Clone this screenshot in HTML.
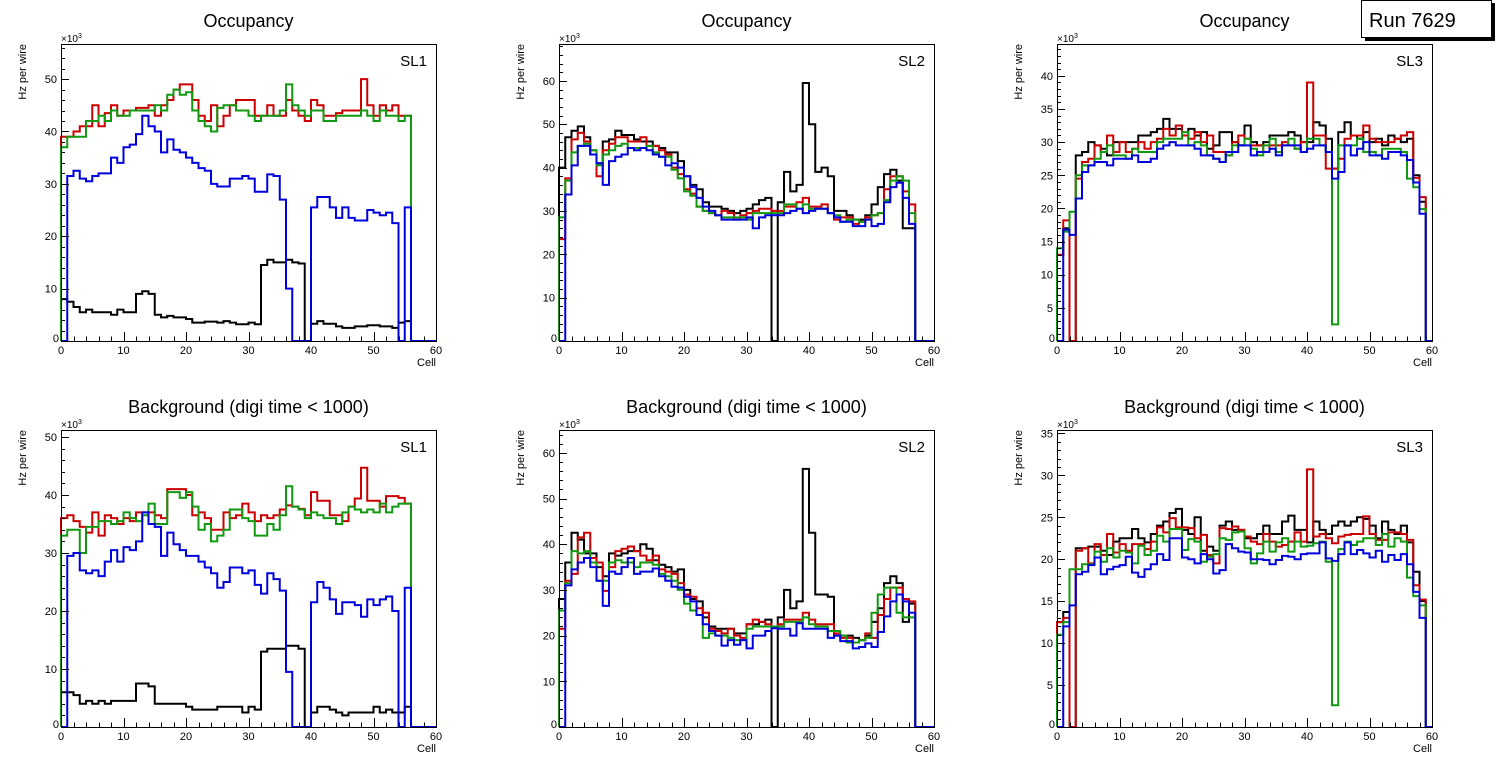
<!DOCTYPE html>
<html><head><meta charset="utf-8"><title>DT occupancy Run 7629</title>
<style>
html,body{margin:0;padding:0;background:#fff;}
svg{display:block;font-family:"Liberation Sans",Arial,sans-serif;}
</style></head>
<body>
<svg id="canvas" width="1496" height="772" viewBox="0 0 1496 772" xmlns="http://www.w3.org/2000/svg">
<rect x="0" y="0" width="1496" height="772" fill="#fff"/>
<g>
<rect x="1365" y="3" width="130" height="38" fill="#000"/>
<rect x="1361.5" y="0.5" width="130" height="37" fill="#fff" stroke="#000" stroke-width="1"/>
<text x="1369" y="27" font-size="20" fill="#000">Run 7629</text>
</g>
</svg>
<script>
// ---- data (units: x10^3 Hz per wire), one value per cell bin ----
const cells = Array.from({length:60},(_,i)=>i);
const xTicks = [0,10,20,30,40,50,60];

const sl1OccBlack = [8,7.5,6.5,5.5,6,5.5,5.5,5.5,5,6,5.5,5.5,9,9.5,9,5,4.5,4.8,4.5,4.5,4.2,3.5,3.5,3.7,3.7,3.5,3.8,3.5,3.2,3.2,3.5,3.2,14.5,15.5,15,15,15.5,15,14.8,0,3.3,3.8,3.3,3.3,2.8,2.5,2.5,2.8,2.8,3,3,2.8,2.8,2.5,3.5,3.8];
const sl1OccRed = [39,39,40,41,41,45,41,43.5,45,43,44,44,44.5,44.5,45,43,45,46,48,49,49,46,43,42,45,41,43,45,46,46,46,43,43,45,43,43,46,44,43,42,46,45,43,43,43.5,44,44,44,50,45,43,45,44,45,43,43];
const sl1OccGreen = [37,39,39,39,42,42,43,42,44,43,43,44,44,44,44,45,44,47,48,47,47.5,44,42,41,40,44.5,45,45,44,44,43,42,43,43,43,44,49,45,44,43,44,44,42,42,43,43,43,43,44,43,42,44,43,43,42,43];
const sl1OccBlue = [0,31.5,32.5,31,30.5,31.5,32,32,35,34,37,37.5,39.5,43,41,40,36,38.5,36.5,36,35,34,33,32.5,30,29.5,29.5,31,31,31.5,31,28.5,28.5,31.8,31.5,27,10,0,0,0,25.5,27.5,27.5,25.5,23.5,25.5,23.5,23,23,25,24.5,24,24.5,22.5,0,25.5];

const sl2OccBlack = [40,47,48.5,49.5,47,43,41,46,46.5,48.5,47.5,47.5,46.5,46,46,45,44.5,43.5,43.5,41.5,38,36,35,32,31,31,30.5,30,29.5,30,30.5,31.5,32.5,33,0,32,39,34.5,36,59.5,50,39,40,38,30,30,29,28,28,29,31.5,35.5,38.5,39.5,37,26,26];
const sl2OccRed = [23.5,37.5,46.5,48,46,44,38,44,45.5,47,47,46,46,47,45,45,44,43,40,38.5,35,34,31,30,29.5,29,30,29.5,28,29,29.5,30,30.5,30.5,30,30,31,31,32,33,31,31,31.5,29.5,28,28.5,28.5,27,27.5,28.5,29,29.5,35,38,38,34.5,31.5];
const sl2OccGreen = [28.5,37,43.5,45,45.5,44,40.5,43,44,45,45.5,44.5,44.5,44.5,45,43.5,42.5,42.5,39.5,37.5,34.5,33.5,31,30,29.5,29,28.5,28.5,28.5,28.5,28,29.5,29.5,29.5,29.5,29.5,31.5,31.5,30.5,31.5,30.5,30.5,30.5,29.5,29,27.5,28,28,27.5,28,29,29.5,32.5,37,38,37,29.5];
const sl2OccBlue = [0,33.8,40.5,45,45,43,41,36,41.5,42.5,43,44.5,44,44.5,44,43,42.5,40.5,41,40,38,35.5,33,31,30,29,28,28,28,28,28.5,26,28.5,29,29,29,29.5,30,30.5,29.5,30,30.5,30.5,29.5,28.5,27.5,27.5,26.5,26.5,28,26.5,27,32,35.5,36.5,33,27];

const sl3OccBlack = [13,17,0,28,28.5,30,29.5,29,28,30,30,30,30,31,31,31.5,32,33.5,32,32,31,32,31,31.5,29,29.5,31.5,31.5,30,29.5,32.5,30,29.5,30,31,31,31,31.5,31,30,30,33,32.5,30.5,26,31.5,33,31,30.5,31.5,30,30.5,29.5,31,30.5,30,30.5,25,21];
const sl3OccRed = [13,18.2,0,24.5,27,27.5,29.5,28.5,31,28.5,30,28.5,29,30,29,30,30.5,32,31,32.5,31,30.5,31.5,30,31,28.5,28.5,28,30,31,30.5,29.5,29.5,28.5,29.5,29.5,30,29.5,29,30,39,31,31,26,26,27.5,30.5,31,31,32.5,30.5,30,30,30,30.5,31,31.5,24.6,21.7];
const sl3OccGreen = [14,16.5,19.5,25,26.5,26.5,27.5,28.5,29.5,28,28,27.5,29,28.5,28.5,28.5,30,30.5,30.5,30.5,31.5,29.5,30,29.5,28,27.5,27,28,29.5,29.5,30.5,29,28,29.5,30.5,28.5,29.5,30.5,29,28.5,30.5,30.5,29.5,28.5,2.5,29.5,29.5,29.5,30.5,28.5,28.5,28,29,29,29,28.5,24.5,23.2,19.9];
const sl3OccBlue = [0,16.8,16,21.5,25.5,26.5,27,27,26.5,27.5,27.5,27.5,28,27,27,27.5,29,29.5,30,29.5,29.5,29.5,29,28,28,27.5,27,28.5,28.5,29.5,29.5,28,28.5,28.5,29,28,29.5,29.5,29.5,28.5,29,29.5,29.5,28.5,24.5,25.5,29.5,28,29,30,28,28,27.5,28.5,28.5,28,27.3,23.9,19.2];

const sl1BkgBlack = [6,6,5.5,4,4.5,4,4.5,4,4.5,4.5,4.5,4.5,7.5,7.5,7,4,4,4,4,4,3.5,3,3,3,3,3.5,3.5,3.5,3.5,2.5,3.5,3,13,13.5,13.5,13.5,14,14,13.5,0,2.5,3.5,3.5,3,2.5,2,2.5,2.5,2.5,2.5,3.5,2.5,3,2.5,2.5,3.5];
const sl1BkgRed = [36,36.5,35.5,34.5,33.5,37,33,36.5,36,35,36,35.5,37,37,37,36.5,36,41,41,41,40,36.5,37,36,34,34,37,36,36.5,38.5,37,35.5,36.5,36,36.5,37.5,38.2,38,37.6,36.5,40.5,39,39,36.5,36.5,35.5,38,39.4,44.7,39,39,38,39.8,39.8,39.5,38.5];
const sl1BkgGreen = [33,34,34,30,34.5,34.5,35.5,35.5,35,35.5,37,36,35.5,36.5,38.5,35,35,40.5,40.5,39.5,40.5,38,34,35,32,33,34,37.5,37.5,36,35.5,33,33,35,34,36.5,41.5,38,37.5,36,37,36.5,36,36,35,37,38,37.5,37,37.5,37,38.5,37,38,38.5,38.5];
const sl1BkgBlue = [0,29.5,30,27,26.5,27,26,28.5,30.5,28.5,31,30.5,32,37,35,34.5,29.5,33.5,31.5,30.5,29.5,29.5,28.5,27.5,26.5,24,25,27.5,27.5,26.5,27,24.5,23,26.5,25.5,23.5,9.5,0,0,0,21.5,25,24,22,19.5,21.5,21.5,21,19,22,21,22,22.5,20,0,24];

const sl2BkgBlack = [28,36,42.5,41,38,38,35,33,38,37.5,38,38.5,38.5,40,39,36.5,35.5,35,34,34.5,30,28,27.5,24,22,21.5,21.5,21.5,20.5,20.5,22.5,22.5,23,23.5,0,24,30,26,27.5,56.5,42.5,29,29,28.5,20,20,20,19.5,19,20,23,26,31.5,33,31.5,23,27];
const sl2BkgRed = [21.5,32,33.5,41.5,42.5,37,36,29.8,35,38.5,39,39.5,38.5,37.5,36.5,37.5,34.5,34,33.5,31.5,29,28.5,26,25,21.5,21,20.5,21.5,20,19.5,22.5,23.5,23,22.5,22,22.5,23.5,23.5,23.5,25,23.5,22.5,22.5,22.5,20.5,19.5,19.5,18.5,19,20.5,19.5,24.5,28,30.5,30.5,28,27.5];
const sl2BkgGreen = [25.5,31.5,38.5,38,38.5,36,32,32,36,36.5,36,36,35,36,36,35.5,33.5,33,32,30,27,25.5,24.5,19.5,20.5,20,20,19.5,19,19,21.5,22,22,22,22,22,23,23,23,24,22.5,22,22,21,21,20,18.5,18.5,19,19.5,25,29,30.5,30.5,25,24,24];
const sl2BkgBlue = [0,31,34.5,36,37,35,32,26.5,34,33.5,35,37,33.5,34,34,34.7,33,32,30.7,30.5,28.5,27.5,24.5,22.5,21,20,17.8,19,18,19,17.2,20,20,21,21.6,21.5,21.5,20,22.7,21.5,21.5,21.5,21.5,19.5,20,18.8,18.8,17.2,17.5,18.3,17.5,20.8,24.2,27.5,29,27.5,25];

const sl3BkgBlack = [12.5,13.7,0,21.3,21.3,21.5,21.5,21,20.5,22.1,22.5,22.5,23.6,22.5,22,23,24,24.5,25.5,26,23.5,23,25,21,21.5,21,24,24.5,23.5,23.5,22.5,22.5,23,24,23,23,24.5,25.2,23.5,23.5,22,24.5,23.5,23,24,24.5,24,24.5,25,24.8,24,22.5,24.5,23.5,23,24,22,18.5,15];
const sl3BkgRed = [12.5,13,0,21,21.3,19.5,21.8,20.5,23,20.8,21.8,21,21.8,21.8,21.2,22.1,23.8,23.2,24.9,23.8,23.8,23.7,22.5,22.9,20.5,19.5,23.7,23.6,23.9,23.5,22.7,22.1,21.8,23,22.1,21.5,21.7,22.1,23.2,22.1,30.7,22.7,23,22.5,21.9,22.7,22.9,23,23,25.1,23,22.3,22.3,23.2,23.2,23,22.3,16.9,15.2];
const sl3BkgGreen = [11,12.5,18.8,18.8,19.4,19.4,20.9,19.7,21.3,20.2,21,20.8,19.5,21.6,20.5,21,22.8,22.1,23.6,23.6,21.1,22.4,22.1,19.7,20.3,20.6,22.5,22.3,23.2,23.3,21.3,19.5,20.7,22.1,20.9,22,22.5,20.9,22.1,21.5,21.6,21.9,22.1,19.7,2.6,21.2,22.1,21.7,22.1,22.5,22.5,21.7,23,21.5,22.5,22.1,17.8,15.6,14.5];
const sl3BkgBlue = [0,12,14.5,18.2,18.5,19.3,20.2,18.2,18.8,19.1,19.3,20.3,18.4,17.9,18.8,19.4,20.6,19.9,22.5,22.5,20.2,20,19.5,20.6,20,18.3,18.7,21.8,21.3,20.9,20.8,20,20,19.9,19.4,19.9,20.4,20.3,20,20.6,20.7,20.7,22,20.1,19.8,20.6,22,20.6,21.1,20.7,20.2,21,19.7,20.5,19.9,20.6,19.4,16.1,13];

const yMaxes = [56.7, 68.5, 44.8, 51.2, 65.0, 35.4];
const yMajor = [10, 10, 5, 10, 10, 5];
const titles = ["Occupancy","Occupancy","Occupancy","Background (digi time < 1000)","Background (digi time < 1000)","Background (digi time < 1000)"];
const slLabels = ["SL1","SL2","SL3","SL1","SL2","SL3"];

const panels = [
 {key:"sl1-occupancy", series:[sl1OccBlack,sl1OccRed,sl1OccGreen,sl1OccBlue]},
 {key:"sl2-occupancy", series:[sl2OccBlack,sl2OccRed,sl2OccGreen,sl2OccBlue]},
 {key:"sl3-occupancy", series:[sl3OccBlack,sl3OccRed,sl3OccGreen,sl3OccBlue]},
 {key:"sl1-background", series:[sl1BkgBlack,sl1BkgRed,sl1BkgGreen,sl1BkgBlue]},
 {key:"sl2-background", series:[sl2BkgBlack,sl2BkgRed,sl2BkgGreen,sl2BkgBlue]},
 {key:"sl3-background", series:[sl3BkgBlack,sl3BkgRed,sl3BkgGreen,sl3BkgBlue]}
];
const seriesColors = ["#000000","#cc0000","#119911","#0000dd"];
const seriesNames = ["black","red","green","blue"];

const NS = "http://www.w3.org/2000/svg";
const svg = document.getElementById("canvas");
function mk(tag, attrs, parent){
  const e = document.createElementNS(NS, tag);
  for (const k in attrs) e.setAttribute(k, attrs[k]);
  parent.appendChild(e);
  return e;
}

panels.forEach((p, idx) => {
  const col = idx % 3, row = Math.floor(idx / 3);
  const L = 61 + col * 498, R = L + 375;
  const T = 44 + row * 386, B = 341 + row * 386;
  const ymax = yMaxes[idx], maj = yMajor[idx], minr = maj / 5;
  const xs = v => L + (v / 60) * (R - L);
  const ys = v => B - (v / ymax) * (B - T);

  const g = mk("g", {}, svg);
  
  

  const title = mk("text", {x: (L + R) / 2, y: 27 + row * 386, "font-size": 18, "text-anchor": "middle", fill: "#000"}, g);
  title.textContent = titles[idx];
  
  

  p.series.forEach((vals, si) => {
    let d = "M" + xs(0) + "," + ys(0);
    cells.forEach(i => {
      const v = i < vals.length ? vals[i] : 0;
      d += " L" + xs(i).toFixed(2) + "," + ys(v).toFixed(2) + " L" + xs(i + 1).toFixed(2) + "," + ys(v).toFixed(2);
    });
    d += " L" + xs(60) + "," + ys(0);
    const path = mk("path", {d: d, fill: "none", stroke: seriesColors[si], "stroke-width": 2, "stroke-linejoin": "miter"}, g);
    
    
  });

  const frame = mk("rect", {x: L + 0.5, y: T + 0.5, width: R - L, height: B - T, fill: "none", stroke: "#000", "stroke-width": 1}, g);
  
  

  const xAxis = mk("g", {}, g);
  
  
  for (let v = 0; v <= 60; v += 2) {
    const isMaj = v % 10 === 0;
    const x = Math.round(xs(v)) + 0.5;
    mk("line", {x1: x, x2: x, y1: B, y2: B - (isMaj ? 9 : 4.5), stroke: "#000", "stroke-width": 1}, xAxis);
  }
  xTicks.forEach(v => {
    const t = mk("text", {x: xs(v), y: B + 13, "font-size": 11, "text-anchor": "middle", fill: "#000"}, xAxis);
    t.textContent = v;
    
    
  });
  const xt = mk("text", {x: R, y: B + 25, "font-size": 11, "text-anchor": "end", fill: "#000"}, xAxis);
  xt.textContent = "Cell";
  
  

  const yAxis = mk("g", {}, g);
  
  
  for (let v = 0; v <= ymax + 1e-9; v += minr) {
    const isMaj = Math.abs(v / maj - Math.round(v / maj)) < 1e-6;
    const y = Math.round(ys(v)) + 0.5;
    mk("line", {x1: L, x2: L + (isMaj ? 8 : 4), y1: y, y2: y, stroke: "#000", "stroke-width": 1}, yAxis);
    if (isMaj) {
      const t = mk("text", {x: v === 0 ? L - 2 : L - 4, y: ys(v) + 4 - (v === 0 ? 3 : 0), "font-size": 11, "text-anchor": "end", fill: "#000"}, yAxis);
      t.textContent = Math.round(v);
      
      
    }
  }
  const yt = mk("text", {x: 0, y: 0, "font-size": 11, "text-anchor": "end", fill: "#000", transform: "translate(" + (L - 35) + "," + T + ") rotate(-90)"}, yAxis);
  yt.textContent = "Hz per wire";
  
  

  const mult = mk("text", {x: L, y: T - 2, "font-size": 10, fill: "#000"}, yAxis);
  mult.innerHTML = '\u00d710<tspan dy="-4" font-size="7">3</tspan>';
  
  

  const sl = mk("text", {x: R - 9, y: T + 22, "font-size": 15, "text-anchor": "end", fill: "#000"}, g);
  sl.textContent = slLabels[idx];
  
  
});
</script>
</body></html>
